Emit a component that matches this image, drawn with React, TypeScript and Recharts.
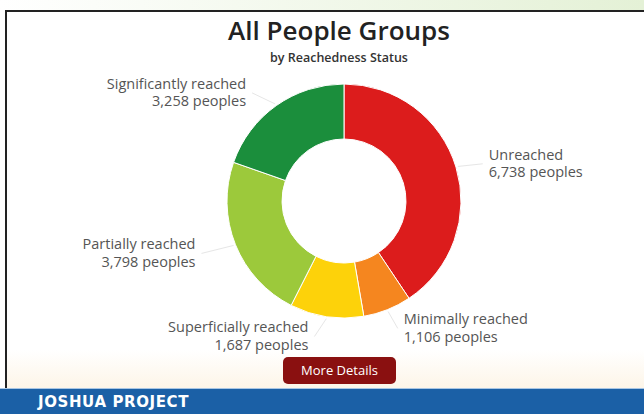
import React from 'react'
import { PieChart, Pie, Cell } from 'recharts'

const statuses = [
  'Unreached',
  'Minimally reached',
  'Superficially reached',
  'Partially reached',
  'Significantly reached',
]
const peoples = [6738, 1106, 1687, 3798, 3258]
const statusColors = ['#dc1c1c', '#f5861f', '#fdd20a', '#9cc93b', '#1b8e3c']

const data = statuses.map((name, i) => ({ name, value: peoples[i] }))

const RAD = Math.PI / 180

function renderLabel(props: any) {
  const { cx, cy, midAngle, outerRadius, name, value } = props
  const c = Math.cos(-midAngle * RAD)
  const s = Math.sin(-midAngle * RAD)
  const x = cx + (outerRadius + 28) * c
  const y = cy + (outerRadius + 18) * s + 2
  const right = c >= 0
  const tx = right ? x + 6 : x - 14
  return (
    <g>
      <line
        x1={cx + (outerRadius + 2) * c}
        y1={cy + (outerRadius + 2) * s}
        x2={right ? x : x - 8}
        y2={y}
        stroke="#e6e6e6"
        strokeWidth={1}
      />
      <text
        x={tx}
        y={y}
        textAnchor={right ? 'start' : 'end'}
        fill="#555"
        fontSize={14.5}
        fontFamily="'Open Sans', sans-serif"
      >
        <tspan x={tx} dy={-4}>{name}</tspan>
        <tspan x={tx} dy={17.5}>{value.toLocaleString('en-US')} peoples</tspan>
      </text>
    </g>
  )
}

export default function App() {
  return (
    <div
      style={{
        position: 'fixed',
        left: 0,
        top: 0,
        width: 644,
        height: 414,
        overflow: 'hidden',
        background: '#fff',
        fontFamily: "'Open Sans', sans-serif",
      }}
    >
      <div
        style={{
          position: 'absolute',
          left: 0,
          top: 0,
          width: 644,
          height: 10,
          background: 'linear-gradient(to right, #ffffff, #e4f1d6)',
        }}
      />
      <div
        style={{
          position: 'absolute',
          left: 5,
          top: 10,
          width: 660,
          height: 400,
          borderTop: '2px solid #222',
          borderLeft: '2px solid #222',
        }}
      />
      <div
        style={{
          position: 'absolute',
          left: 7,
          top: 350,
          width: 637,
          height: 38,
          background: 'linear-gradient(to bottom, #ffffff, #fdf5e8)',
        }}
      />
      <div
        style={{
          position: 'absolute',
          left: 0,
          width: 678,
          top: 15,
          textAlign: 'center',
          fontSize: 26,
          lineHeight: '30px',
          fontWeight: 600,
          color: '#222',
        }}
      >
        All People Groups
      </div>
      <div
        style={{
          position: 'absolute',
          left: 0,
          width: 678,
          top: 50,
          textAlign: 'center',
          fontSize: 12.5,
          lineHeight: '15px',
          fontWeight: 600,
          color: '#333',
        }}
      >
        by Reachedness Status
      </div>
      <div style={{ position: 'absolute', left: 0, top: 0 }}>
        <PieChart width={644} height={414}>
          <Pie
            data={data}
            dataKey="value"
            nameKey="name"
            cx={339}
            cy={196}
            innerRadius={62}
            outerRadius={117}
            startAngle={90}
            endAngle={-270}
            stroke="#ffffff"
            strokeWidth={1}
            label={renderLabel}
            labelLine={false}
            isAnimationActive={false}
          >
            {data.map((entry, index) => (
              <Cell key={`cell-${index}`} fill={statusColors[index]} />
            ))}
          </Pie>
        </PieChart>
      </div>
      <div
        style={{
          position: 'absolute',
          left: 283,
          top: 357,
          width: 113,
          height: 27,
          borderRadius: 5,
          background: '#8a1010',
          color: '#fff',
          fontSize: 13,
          lineHeight: '27px',
          textAlign: 'center',
        }}
      >
        More Details
      </div>
      <div
        style={{
          position: 'absolute',
          left: 0,
          top: 388,
          width: 644,
          height: 26,
          background: '#1b60a6',
          borderTop: '1px solid #a9c6e4',
        }}
      >
        <div
          style={{
            position: 'absolute',
            left: 38,
            top: 4,
            color: '#fff',
            fontFamily: "'DejaVu Sans', 'Liberation Sans', sans-serif",
            fontWeight: 700,
            fontSize: 15,
            lineHeight: '18px',
            letterSpacing: 0.6,
          }}
        >
          JOSHUA PROJECT
        </div>
      </div>
    </div>
  )
}
